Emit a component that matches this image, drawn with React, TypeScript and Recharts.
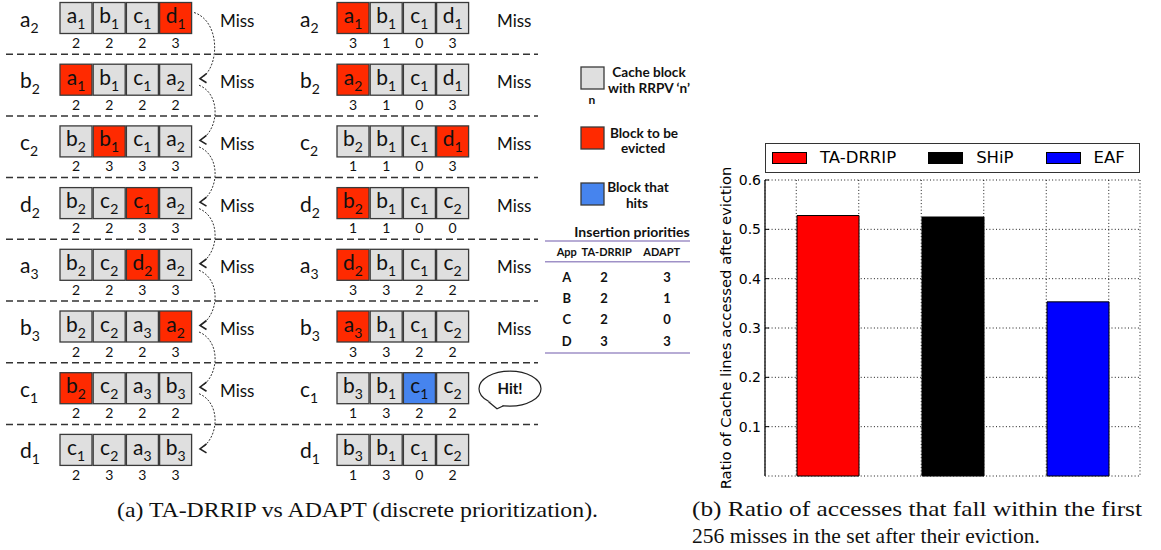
import React from 'react';
import { BarChart, Bar, Cell, XAxis, YAxis, CartesianGrid, Legend } from 'recharts';

// (b) bar chart data
const policies = ['TA-DRRIP', 'SHiP', 'EAF'];
const ratios = [0.528, 0.525, 0.353];
const policyColors = ['#ff0000', '#000000', '#0000ff'];
const yTicks = [0.1, 0.2, 0.3, 0.4, 0.5, 0.6];

// (a) diagram data
const accesses = ['a2', 'b2', 'c2', 'd2', 'a3', 'b3', 'c1', 'd1'];

const drripBlocks = [
  ['a1', 'b1', 'c1', 'd1'],
  ['a1', 'b1', 'c1', 'a2'],
  ['b2', 'b1', 'c1', 'a2'],
  ['b2', 'c2', 'c1', 'a2'],
  ['b2', 'c2', 'd2', 'a2'],
  ['b2', 'c2', 'a3', 'a2'],
  ['b2', 'c2', 'a3', 'b3'],
  ['c1', 'c2', 'a3', 'b3'],
];
const drripRrpv = [
  [2, 2, 2, 3],
  [2, 2, 2, 2],
  [2, 3, 3, 3],
  [2, 2, 3, 3],
  [2, 2, 3, 3],
  [2, 2, 2, 3],
  [2, 2, 2, 2],
  [2, 3, 3, 3],
];
const drripEvict = [3, 0, 1, 2, 2, 3, 0, -1];
const drripOutcome = ['Miss', 'Miss', 'Miss', 'Miss', 'Miss', 'Miss', 'Miss', ''];

const adaptBlocks = [
  ['a1', 'b1', 'c1', 'd1'],
  ['a2', 'b1', 'c1', 'd1'],
  ['b2', 'b1', 'c1', 'd1'],
  ['b2', 'b1', 'c1', 'c2'],
  ['d2', 'b1', 'c1', 'c2'],
  ['a3', 'b1', 'c1', 'c2'],
  ['b3', 'b1', 'c1', 'c2'],
  ['b3', 'b1', 'c1', 'c2'],
];
const adaptRrpv = [
  [3, 1, 0, 3],
  [3, 1, 0, 3],
  [1, 1, 0, 3],
  [1, 1, 0, 0],
  [3, 3, 2, 2],
  [3, 3, 2, 2],
  [1, 3, 2, 2],
  [1, 3, 0, 2],
];
const adaptEvict = [0, 0, 3, 0, 0, 0, -1, -1];
const adaptHit = [-1, -1, -1, -1, -1, -1, 2, -1];
const adaptOutcome = ['Miss', 'Miss', 'Miss', 'Miss', 'Miss', 'Miss', 'Hit!', ''];

const priorityApps = ['A', 'B', 'C', 'D'];
const drripPriority = [2, 2, 2, 3];
const adaptPriority = [3, 1, 0, 3];

const FONT = 'Lato, "Open Sans", sans-serif';
const MPL_FONT = '"DejaVu Sans", sans-serif';
const RED = '#ff2a00';
const BLUE = '#4684ee';
const GRAY = '#dfdfdf';
const PURPLE = '#9f91c7';

const rowTop = (i: number) => 2.5 + 61.7 * i;

const SubLabel = ({ x, y, name, size, sub, anchor }: any) => (
  <text x={x} y={y} fontFamily={FONT} fontSize={size} textAnchor={anchor} fill="#111">
    {name[0]}
    <tspan fontSize={sub} dy={6}>{name.slice(1)}</tspan>
  </text>
);

const BlockRow = ({ x0, top, names, rrpv, evict, hit }: any) => (
  <g>
    {names.map((n: string, j: number) => {
      const x = x0 + j * 33.2;
      const fill = j === evict ? RED : j === hit ? BLUE : GRAY;
      return (
        <g key={j}>
          <rect x={x} y={top} width={32} height={31} fill={fill} stroke="#3a3a3a" strokeWidth={1.3} />
          <SubLabel x={x + 16} y={top + 20.5} name={n} size={21} sub={14} anchor="middle" />
          <text x={x + 16} y={top + 45.5} textAnchor="middle" fontFamily={FONT} fontSize={14} fill="#111">
            {rrpv[j]}
          </text>
        </g>
      );
    })}
  </g>
);

const Diagram = () => (
  <g>
    {accesses.slice(1).map((_, k) => (
      <line key={'d' + k} x1={6} x2={538} y1={rowTop(k + 1) - 10} y2={rowTop(k + 1) - 10}
        stroke="#333" strokeWidth={1.5} strokeDasharray="7 4" />
    ))}
    {accesses.map((acc, i) => {
      const top = rowTop(i);
      return (
        <g key={acc + i}>
          <SubLabel x={20} y={top + 24} name={acc} size={21} sub={14} anchor="start" />
          <SubLabel x={300} y={top + 24} name={acc} size={21} sub={14} anchor="start" />
          <BlockRow x0={60} top={top} names={drripBlocks[i]} rrpv={drripRrpv[i]} evict={drripEvict[i]} hit={-1} />
          <BlockRow x0={337} top={top} names={adaptBlocks[i]} rrpv={adaptRrpv[i]} evict={adaptEvict[i]} hit={adaptHit[i]} />
          {drripOutcome[i] && (
            <text x={220} y={top + 24} fontFamily={FONT} fontSize={17} fill="#111">{drripOutcome[i]}</text>
          )}
          {adaptOutcome[i] === 'Miss' && (
            <text x={497} y={top + 24} fontFamily={FONT} fontSize={17} fill="#111">Miss</text>
          )}
          {adaptOutcome[i] === 'Hit!' && (
            <g>
              <ellipse cx={510} cy={top + 16} rx={31} ry={17.5} fill="#fff" stroke="#222" strokeWidth={1.2} />
              <polygon points={`488,${top + 28} 497,${top + 36} 504,${top + 32}`} fill="#fff" />
              <polyline points={`488.5,${top + 29} 497,${top + 36} 503.5,${top + 33}`} fill="none" stroke="#222" strokeWidth={1.2} />
              <text x={510} y={top + 21} textAnchor="middle" fontFamily={FONT} fontWeight="bold" fontSize={15} fill="#111">Hit!</text>
            </g>
          )}
          {i < accesses.length - 1 && (() => {
            const x0 = i === 0 ? 194 : 199;
            const y0 = i === 0 ? top + 10 : top + 21;
            const y1 = rowTop(i + 1) + 12;
            return (
              <g>
                <path d={`M ${x0} ${y0} C 219 ${y0 + 8}, 220 ${y1 - 14}, 204 ${y1}`} fill="none"
                  stroke="#333" strokeWidth={1} strokeDasharray="2 1.5" />
                <polyline points={`206.5,${y1 - 2.5} 200,${y1 + 2.5} 206.5,${y1 + 6.5}`} fill="none"
                  stroke="#222" strokeWidth={1.6} />
              </g>
            );
          })()}
        </g>
      );
    })}
  </g>
);

const Key = () => (
  <g fontFamily={FONT} fontWeight="bold" fill="#111">
    <rect x={581} y={67} width={23} height={22} fill={GRAY} stroke="#3a3a3a" strokeWidth={1.3} />
    <text x={592} y={104} fontSize={12} textAnchor="middle">n</text>
    <text x={649} y={77} fontSize={13.6} textAnchor="middle">Cache block</text>
    <text x={649} y={93} fontSize={13.6} textAnchor="middle">with RRPV ‘n’</text>
    <rect x={581} y={127} width={23} height={22} fill={RED} stroke="#3a3a3a" strokeWidth={1.3} />
    <text x={644} y={138} fontSize={13.6} textAnchor="middle">Block to be</text>
    <text x={643} y={153} fontSize={13.6} textAnchor="middle">evicted</text>
    <rect x={581} y={183} width={23} height={22} fill={BLUE} stroke="#3a3a3a" strokeWidth={1.3} />
    <text x={638} y={191.5} fontSize={13.6} textAnchor="middle">Block that</text>
    <text x={637} y={208} fontSize={13.6} textAnchor="middle">hits</text>

    <text x={632} y={236.5} fontSize={14} textAnchor="middle">Insertion priorities</text>
    <line x1={545} x2={690} y1={241} y2={241} stroke={PURPLE} strokeWidth={1.5} />
    <text x={566.7} y={256} fontSize={11} textAnchor="middle">App</text>
    <text x={606.7} y={256} fontSize={11} textAnchor="middle">TA-DRRIP</text>
    <text x={661.7} y={256} fontSize={11} textAnchor="middle">ADAPT</text>
    <line x1={545} x2={690} y1={261.7} y2={261.7} stroke={PURPLE} strokeWidth={1.5} />
    {priorityApps.map((app, k) => {
      const y = 281.5 + 21.4 * k;
      return (
        <g key={app}>
          <text x={566.7} y={y} fontSize={13} textAnchor="middle">{app}</text>
          <text x={604} y={y} fontSize={13} textAnchor="middle">{drripPriority[k]}</text>
          <text x={667} y={y} fontSize={13} textAnchor="middle">{adaptPriority[k]}</text>
        </g>
      );
    })}
    <line x1={545} x2={690} y1={353} y2={353} stroke={PURPLE} strokeWidth={1.5} />
  </g>
);

const Captions = () => (
  <g fontFamily='"Liberation Serif", serif' fontSize={21.5} fill="#111">
    <text x={117} y={517} textLength={481} lengthAdjust="spacingAndGlyphs">(a) TA-DRRIP vs ADAPT (discrete prioritization).</text>
    <text x={692} y={516} textLength={450} lengthAdjust="spacingAndGlyphs">(b) Ratio of accesses that fall within the first</text>
    <text x={692} y={543} textLength={348} lengthAdjust="spacingAndGlyphs">256 misses in the set after their eviction.</text>
  </g>
);

// chart
const chartData = policies.map((name, i) => ({ name, pos: i + 0.5, ratio: ratios[i] }));
const edgeTicks = policies.flatMap((_, i) => [i + 0.25, i + 0.75]);

const LeftTick = ({ x, y, payload }: any) => (
  <g>
    <line x1={x} x2={x + 4} y1={y} y2={y} stroke="#000" />
    <text x={x - 4} y={y} dy={5} textAnchor="end" fontFamily={MPL_FONT} fontSize={14} fill="#000">
      {Number(payload.value).toFixed(1)}
    </text>
  </g>
);
const RightTick = ({ x, y }: any) => <line x1={x} x2={x - 4} y1={y} y2={y} stroke="#000" />;
const BottomTick = ({ x, y }: any) => <line x1={x} x2={x} y1={y} y2={y - 4} stroke="#000" />;
const TopTick = ({ x, y }: any) => <line x1={x} x2={x} y1={y} y2={y + 4} stroke="#000" />;

const renderLegend = () => (
  <div style={{
    boxSizing: 'border-box', width: 375, height: 30, border: '1.5px solid #333', background: '#fff',
    display: 'flex', alignItems: 'center', paddingLeft: 6, fontFamily: MPL_FONT, fontSize: 16.5,
    color: '#000', whiteSpace: 'nowrap', overflow: 'hidden',
  }}>
    {policies.map((p, i) => (
      <div key={p} style={{ display: 'flex', alignItems: 'center', marginRight: 32, flexShrink: 0 }}>
        <span style={{
          display: 'inline-block', width: 35, height: 12, background: policyColors[i],
          border: '1px solid #000', boxSizing: 'border-box', marginRight: 13, flexShrink: 0,
        }} />
        <span>{p}</span>
      </div>
    ))}
  </div>
);

const axisLine = { stroke: '#333', strokeWidth: 1.6 };

const RatioChart = () => (
  <BarChart width={461} height={360} data={chartData} margin={{ top: 50, right: 21, bottom: 14, left: 15 }}>
    <CartesianGrid xAxisId="b" yAxisId="l" stroke="#000" strokeWidth={0.9} strokeDasharray="1 2.3" />
    <XAxis xAxisId="b" type="number" dataKey="pos" domain={[0, 3]} ticks={edgeTicks} interval={0}
      height={0} tickSize={0} tickMargin={0} tickLine={false} tick={<BottomTick />} axisLine={axisLine} />
    <XAxis xAxisId="t" orientation="top" type="number" dataKey="pos" domain={[0, 3]} ticks={edgeTicks} interval={0}
      height={0} tickSize={0} tickMargin={0} tickLine={false} tick={<TopTick />} axisLine={axisLine} />
    <YAxis yAxisId="l" domain={[0, 0.6]} ticks={yTicks} interval={0} width={50}
      tickSize={0} tickMargin={0} tickLine={false} tick={<LeftTick />} axisLine={axisLine}
      label={{
        value: 'Ratio of Cache lines accessed after eviction', angle: -90, position: 'insideLeft', offset: 11,
        fontFamily: MPL_FONT, fontSize: 14.8,
        style: { textAnchor: 'middle', fontFamily: MPL_FONT, fontSize: 14.8, fill: '#000' },
      }} />
    <YAxis yAxisId="r" orientation="right" domain={[0, 0.6]} ticks={yTicks} interval={0} width={0}
      tickSize={0} tickMargin={0} tickLine={false} tick={<RightTick />} axisLine={axisLine} />
    <Bar xAxisId="b" yAxisId="l" dataKey="ratio" barSize={62} stroke="#000" strokeWidth={1} isAnimationActive={false}>
      {policies.map((p, i) => (
        <Cell key={p} fill={policyColors[i]} />
      ))}
    </Bar>
    <Legend content={renderLegend} layout="horizontal" verticalAlign="middle" align="center"
      width={375} height={30} wrapperStyle={{ top: 12.7, left: 65, width: 375, height: 30 }} />
  </BarChart>
);

export default function App() {
  return (
    <div style={{ position: 'absolute', left: 0, top: 0, width: 1161, height: 550, background: '#fff' }}>
      <svg width={1161} height={550} style={{ position: 'absolute', left: 0, top: 0 }}>
        <Diagram />
        <Key />
        <Captions />
      </svg>
      <div style={{ position: 'absolute', left: 700, top: 130 }}>
        <RatioChart />
      </div>
    </div>
  );
}
